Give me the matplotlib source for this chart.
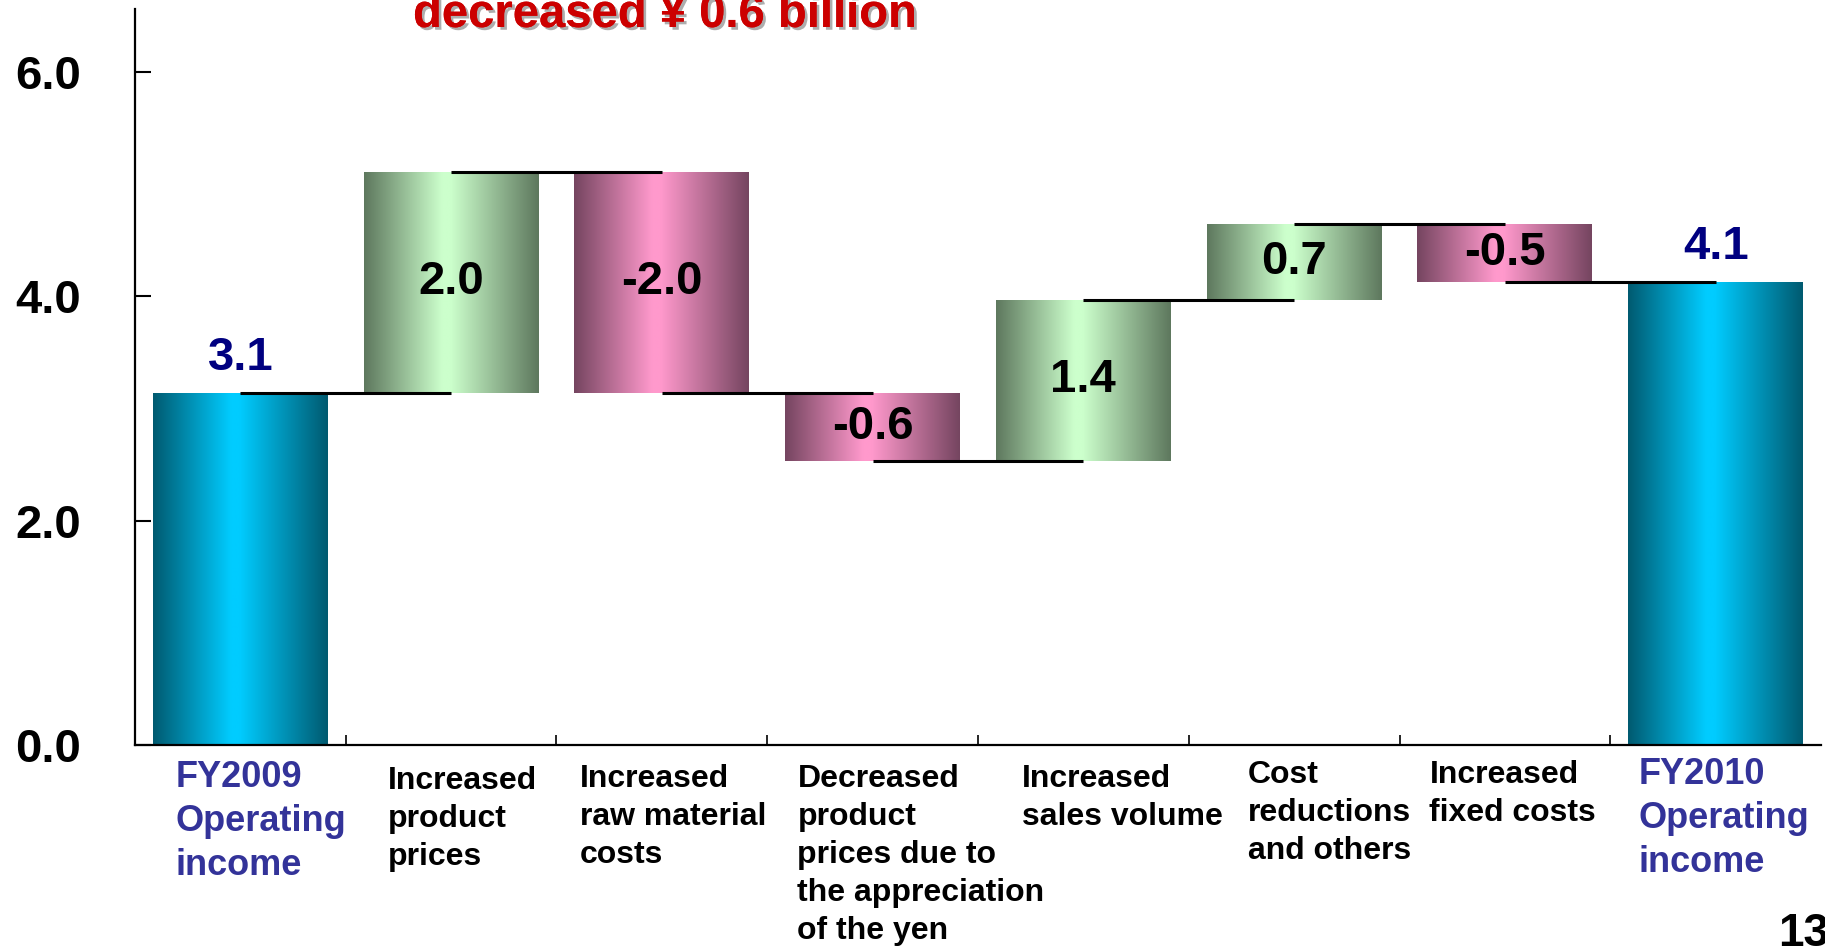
import numpy as np
import matplotlib
matplotlib.use('Agg')
import matplotlib.pyplot as plt
import matplotlib.patheffects as pe
from matplotlib.colors import to_rgb

plt.rcParams['font.family'] = ['Liberation Sans', 'DejaVu Sans']
plt.rcParams['font.weight'] = 'bold'

# ─── данные ─────────────────────────────────────────────────────────
categories = [
    "FY2009\nOperating\nincome",
    "Increased\nproduct\nprices",
    "Increased\nraw material\ncosts",
    "Decreased\nproduct\nprices due to\nthe appreciation\nof the yen",
    "Increased\nsales volume",
    "Cost\nreductions\nand others",
    "Increased\nfixed costs",
    "FY2010\nOperating\nincome",
]
start_value = 3.14
deltas = [1.97, -1.97, -0.61, 1.44, 0.67, -0.51]
yticks = [0.0, 2.0, 4.0, 6.0]
title_text = "decreased \u00a5 0.6 billion"
page_no = "13"

# ─── оформление ─────────────────────────────────────────────────────
GRAD = {
    'total': ('#005A70', '#00CCFF'),
    'up':    ('#5E785E', '#CCFFCC'),
    'down':  ('#754560', '#FF99CC'),
}
# сдвиг левого края подписи от центра столбца и верх подписи (доля оси)
label_dx = [-0.306, -0.301, -0.390, -0.357, -0.291, -0.220, -0.358, -0.364]
label_top = [-0.020, -0.028, -0.026, -0.026, -0.026, -0.020, -0.020, -0.016]


def gradient(kind, n=256, c=0.47, flat=0.05):
    edge, mid = np.array(to_rgb(GRAD[kind][0])), np.array(to_rgb(GRAD[kind][1]))
    t = np.linspace(0, 1, n)
    d = np.where(t < c, (c - t) / c, (t - c) / (1 - c))
    d = np.clip((d - flat) / (1 - flat), 0, 1)
    k = (1 - d)[:, None]
    return (edge + (mid - edge) * k)[None, :, :]


# ─── расчёт водопада ───────────────────────────────────────────────
levels = [start_value]
for d in deltas:
    levels.append(levels[-1] + d)
end_value = levels[-1]

bottoms, heights, kinds, values = [0.0], [start_value], ['total'], [start_value]
for i, d in enumerate(deltas):
    lo = min(levels[i], levels[i + 1])
    bottoms.append(lo)
    heights.append(abs(d))
    kinds.append('up' if d > 0 else 'down')
    values.append(d)
bottoms.append(0.0)
heights.append(end_value)
kinds.append('total')
values.append(end_value)
bar_levels = levels + [end_value]

x = np.arange(len(categories))

fig = plt.figure(figsize=(18.25, 9.47), dpi=100)
ax = fig.add_axes([0.07397, 0.21330, 0.92384, 0.77719])

bars = ax.bar(x, heights, bottom=bottoms, width=0.83, color='none', edgecolor='none')
for patch, kind in zip(bars.patches, kinds):
    x0, y0 = patch.get_x(), patch.get_y()
    im = ax.imshow(gradient(kind), extent=[x0, x0 + patch.get_width(), y0, y0 + patch.get_height()],
                   aspect='auto', interpolation='bilinear', zorder=2)
    im.set_clip_path(patch)

# соединительные линии
for i in range(len(x) - 1):
    ax.plot([x[i], x[i + 1]], [bar_levels[i], bar_levels[i]], color='black', lw=2.2,
            zorder=4, solid_capstyle='butt')

# подписи значений
for i, (v, kind) in enumerate(zip(values, kinds)):
    if kind == 'total':
        ax.annotate(f'{v:.1f}', (x[i], bottoms[i] + heights[i]), xytext=(0, 16),
                    textcoords='offset points', ha='center', va='baseline',
                    fontsize=34, color='#000080', fontweight='bold', zorder=5)
    else:
        ax.text(x[i], bottoms[i] + heights[i] / 2, f'{v:.1f}', ha='center', va='center',
                fontsize=34, color='black', fontweight='bold', zorder=5)

# подписи категорий
trans = ax.get_xaxis_transform()
for i, lab in enumerate(categories):
    total = kinds[i] == 'total'
    ax.text(x[i] + label_dx[i], label_top[i], lab, transform=trans, ha='left', va='top',
            fontsize=26 if total else 23, color='#333399' if total else 'black',
            fontweight='bold', linespacing=1.33 if total else 1.35, clip_on=False)

ax.set_xlim(-0.5, len(categories) - 0.5)
ax.set_ylim(0, 6.56)
ax.set_yticks(yticks)
ax.set_yticklabels([f'{t:.1f}' for t in yticks], fontsize=34, fontweight='bold')
ax.set_xticks(x[:-1] + 0.5)
ax.set_xticklabels([])
ax.tick_params(axis='y', direction='in', length=11.5, width=1.5, pad=39)
ax.tick_params(axis='x', direction='in', length=7, width=1.2)
for s in ('top', 'right'):
    ax.spines[s].set_visible(False)
for s in ('left', 'bottom'):
    ax.spines[s].set_linewidth(1.6)
    ax.spines[s].set_color('black')

fig.text(0.2263, 0.9715, title_text, ha='left', va='baseline', fontsize=34,
         color='#CC0000', fontweight='bold',
         path_effects=[pe.withSimplePatchShadow(offset=(2, -2), shadow_rgbFace='#999999', alpha=0.8),
                       pe.Normal()])
fig.text(0.9742, 0.037, page_no, ha='left', va='top', fontsize=33, fontweight='bold')

fig.savefig('out.png', dpi=100)
